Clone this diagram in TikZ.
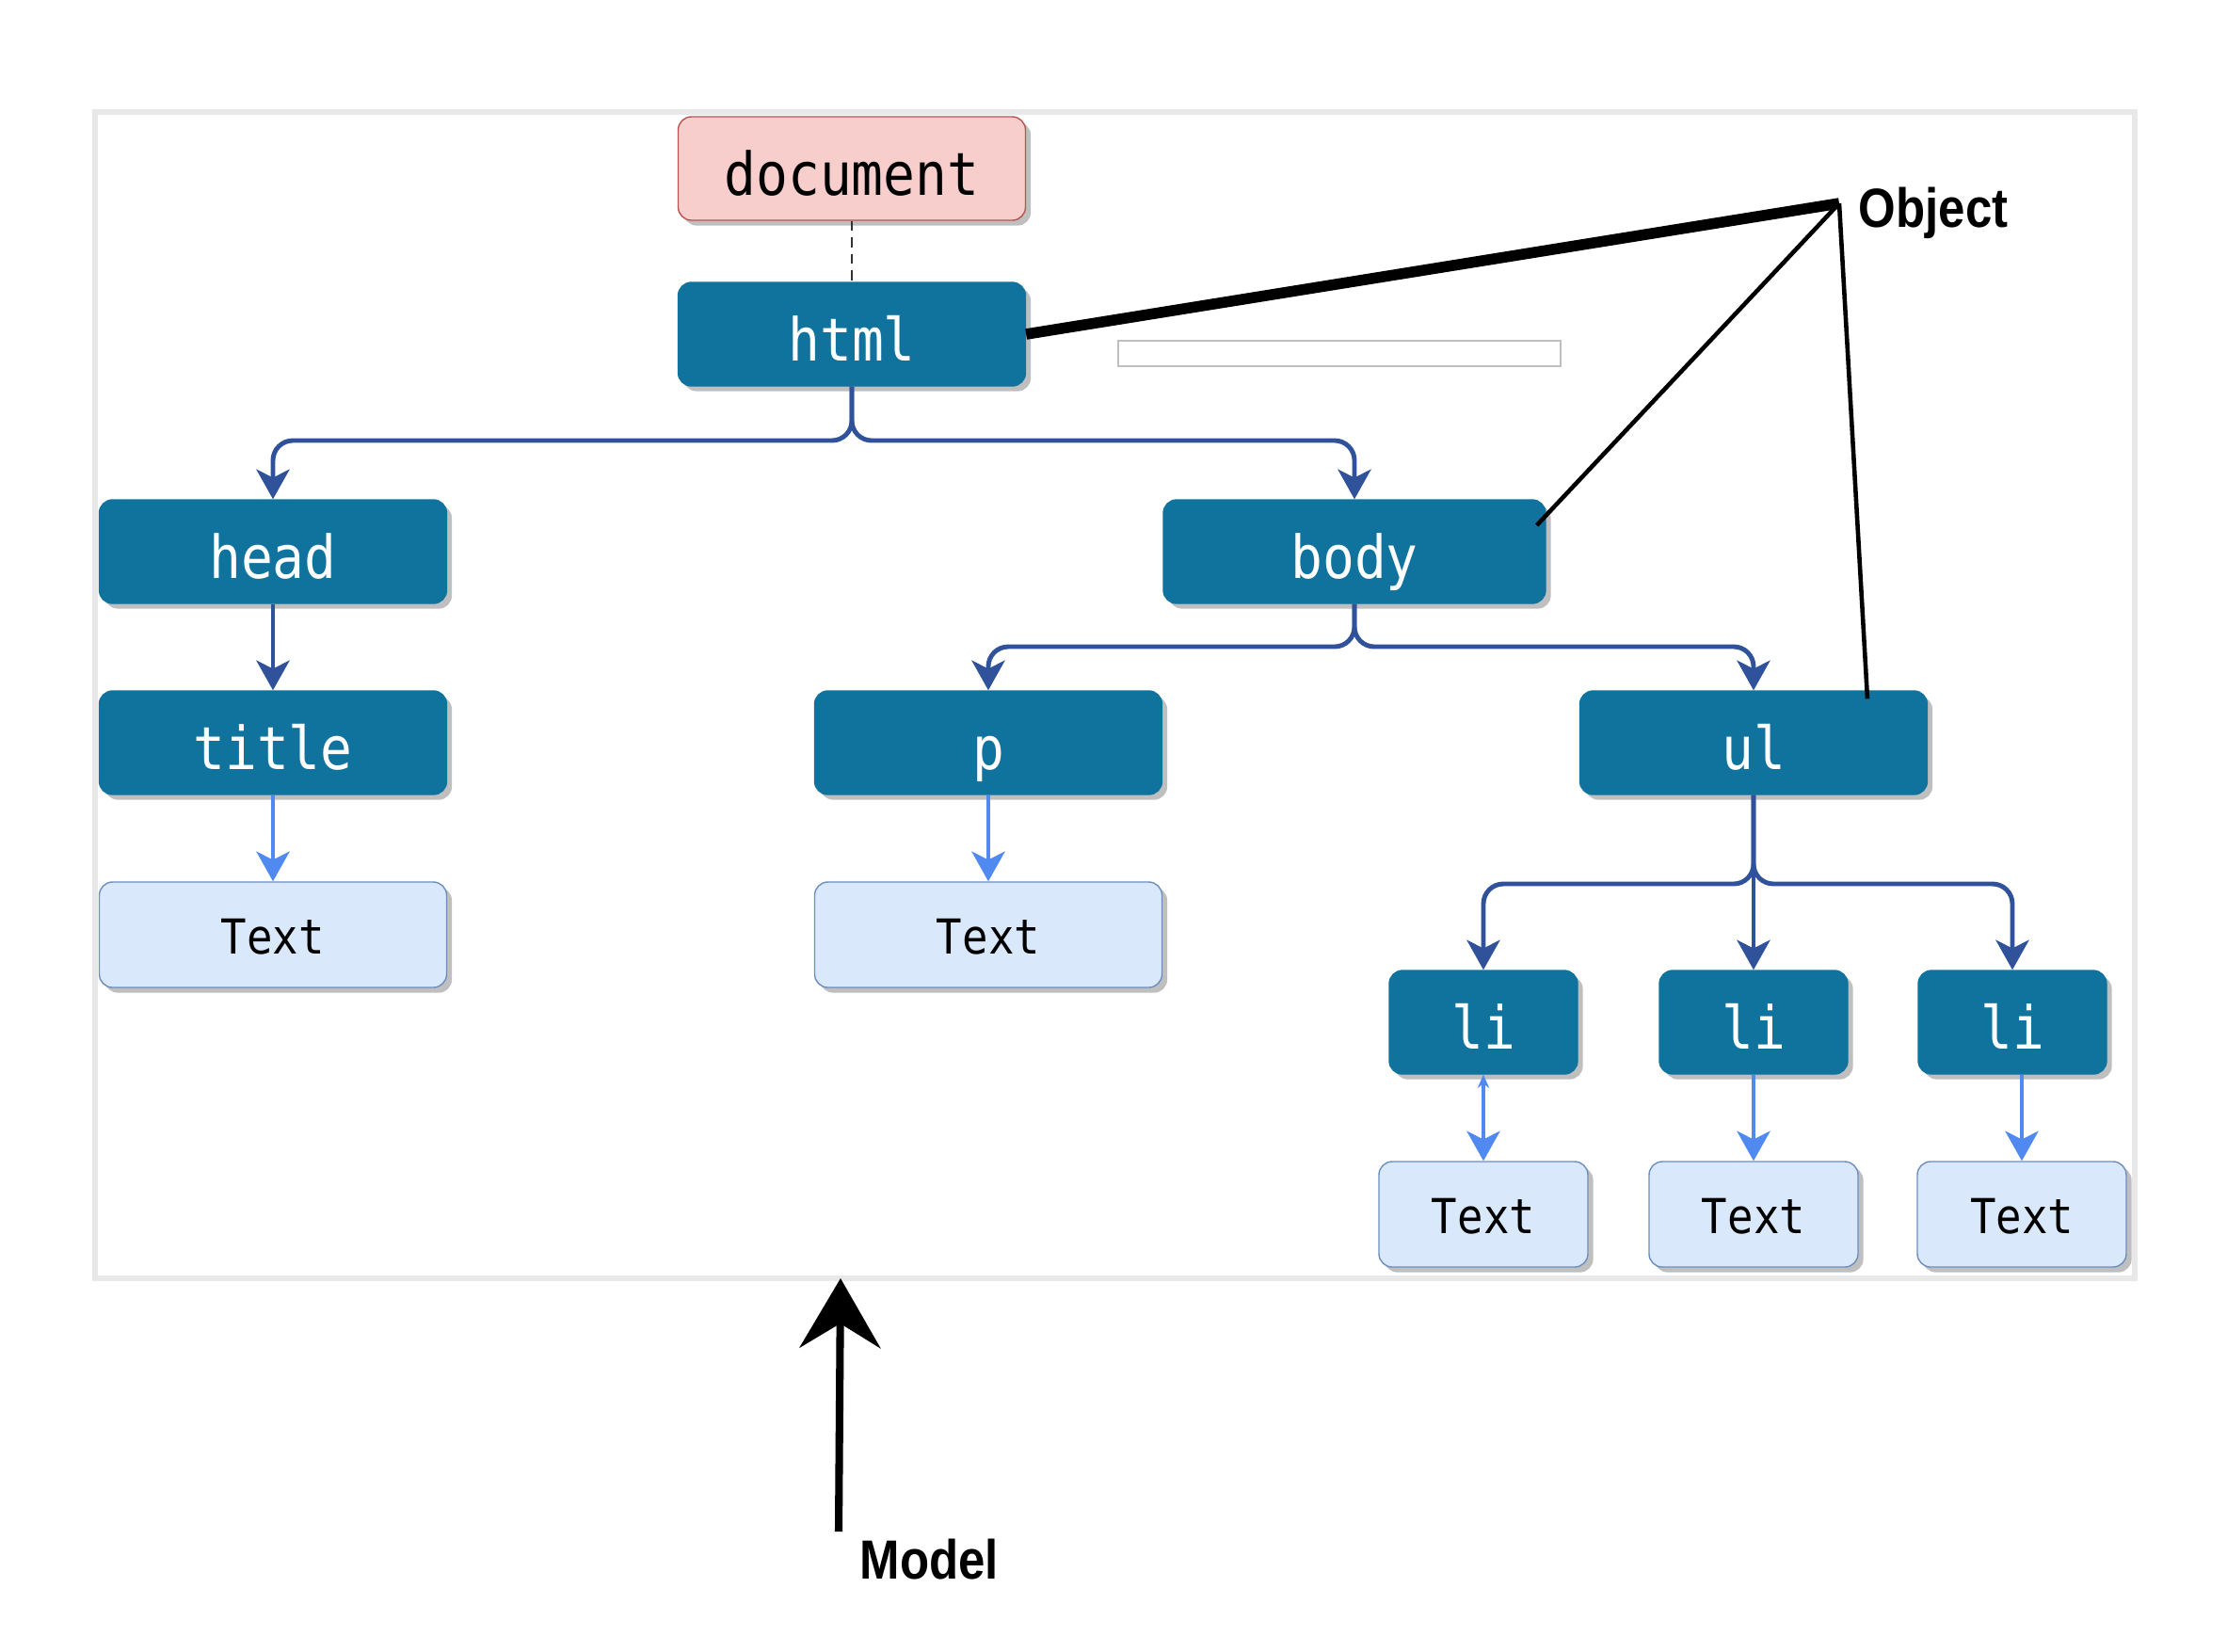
\documentclass[tikz,border=0pt]{standalone}
\usepackage{fontspec}
\setmonofont{DejaVu Sans Mono}
\setsansfont{Liberation Sans}
\usetikzlibrary{arrows.meta}
\usetikzlibrary{shadows}
\definecolor{tagblue}{RGB}{16,115,158}
\definecolor{treeblue}{RGB}{47,82,155}
\definecolor{leafblue}{RGB}{80,137,240}
\definecolor{leaffill}{RGB}{218,232,252}
\definecolor{leafdraw}{RGB}{108,142,191}
\definecolor{docfill}{RGB}{248,206,204}
\definecolor{docdraw}{RGB}{184,84,80}
\tikzset{
    boxshadow/.style = {drop shadow={shadow xshift=1.6pt,shadow yshift=-1.6pt,fill=black,opacity=0.25}},
    tagnode/.style = {rectangle, rounded corners=4pt, draw=tagblue, fill=tagblue, text=white, minimum width=3.69cm, minimum height=1.1cm, text height=0.56cm, text depth=0pt, font=\ttfamily\fontsize{16}{19}\selectfont, boxshadow},
    docnode/.style = {tagnode, draw=docdraw, fill=docfill, text=black},
    textnode/.style = {rectangle, rounded corners=4pt, draw=leafdraw, fill=leaffill, text=black, minimum width=3.69cm, minimum height=1.12cm, text height=0.40cm, text depth=0pt, font=\ttfamily\fontsize{13}{16}\selectfont, boxshadow},
    blank/.style = {rectangle, draw=black!25, fill=white, minimum width=4.70cm, minimum height=0.27cm, inner sep=0pt},
    lbl/.style = {font=\sffamily\bfseries\fontsize{14.5}{17}\selectfont, inner sep=0pt},
    frame/.style = {draw=black!9, line width=1.6pt},
    edget/.style = {-{Stealth[length=9pt,width=10pt,inset=2.5pt]}, line width=1.4pt, draw=treeblue, rounded corners=6pt}, % tree
    edgel/.style = {-{Stealth[length=9pt,width=10pt,inset=2.5pt]}, line width=1.4pt, draw=leafblue}, % leaf
    edged/.style = {densely dashed, line width=0.7pt, draw=black!80},
    pointer/.style = {line width=1.3pt, draw=black},
    pointerthick/.style = {line width=3.3pt, draw=black},
    modelarrow/.style = {-{Stealth[length=0.74cm,width=0.86cm,inset=0.26cm]}, line width=2.3pt, draw=black}
}
\newcommand{\T}[1]{\scalebox{1}[1.12]{#1}}

\begin{document}
\begin{tikzpicture}
\useasboundingbox (0,0) rectangle (23.66,-17.54);
\draw[frame] (1.01,-1.19) rectangle (22.68,-13.58);
%
\node[docnode] at (9.05, -1.79) (doc) {\T{document}};
\node[tagnode] at (9.05, -3.55) (html) {\T{html}};
\node[tagnode] at (2.90, -5.86) (head) {\T{head}};
\node[tagnode, minimum width=4.06cm] at (14.39, -5.86) (body) {\T{body}};
\node[tagnode] at (2.90, -7.89) (title) {\T{title}};
\node[tagnode] at (10.50, -7.89) (p) {\T{p}};
\node[tagnode] at (18.63, -7.89) (ul) {\T{ul}};
\node[textnode] at (2.90, -9.93) (ttitle) {\T{Text}};
\node[textnode] at (10.50, -9.93) (tp) {\T{Text}};
\node[tagnode, minimum width=2.0cm] at (15.76, -10.86) (lia) {\T{li}};
\node[tagnode, minimum width=2.0cm] at (18.63, -10.86) (lib) {\T{li}};
\node[tagnode, minimum width=2.0cm] at (21.38, -10.86) (lic) {\T{li}};
\node[textnode, minimum width=2.22cm] at (15.76, -12.90) (tlia) {\T{Text}};
\node[textnode, minimum width=2.22cm] at (18.63, -12.90) (tlib) {\T{Text}};
\node[textnode, minimum width=2.22cm] at (21.48, -12.90) (tlic) {\T{Text}};
\node[blank] at (14.23, -3.755) (field) {};
%
\coordinate (jhtml) at (9.05, -4.68);
\coordinate (jbody) at (14.39, -6.87);
\coordinate (jul) at (18.63, -9.39);
%
\draw[edged] (doc) -- (html);
\draw[edget] (html) -- (jhtml) -| (head);
\draw[edget] (html) -- (jhtml) -| (body);
\draw[edget] (head) -- (title);
\draw[edget] (body) -- (jbody) -| (p);
\draw[edget] (body) -- (jbody) -| (ul);
\draw[edget] (ul) -- (jul) -| (lia);
\draw[edget] (ul) -- (lib);
\draw[edget] (ul) -- (jul) -| (lic);
\draw[edgel] (title) -- (ttitle);
\draw[edgel] (p) -- (tp);
\draw[edgel, {Stealth[length=4pt,width=3.5pt]}-{Stealth[length=9pt,width=10pt,inset=2.5pt]}] (lia) -- (tlia);
\draw[edgel] (lib) -- (tlib);
\draw[edgel] (lic.south -| tlic.north) -- (tlic);
%
\node[lbl, anchor=west] at (19.74, -2.26) (objlbl) {\scalebox{1}[1.15]{Object}};
\coordinate (obj) at (19.54, -2.16);
\draw[pointerthick] (html.east) -- (obj);
\draw[pointer] ([xshift=-0.1cm,yshift=0.28cm]body.east) -- (obj);
\draw[pointer] ([xshift=1.21cm,yshift=-0.09cm]ul.north) -- (obj);
%
\node[lbl, anchor=west] at (9.13, -16.57) (mdl) {\scalebox{1}[1.15]{Model}};
\coordinate (mfoot) at (8.91, -16.27);
\coordinate (mtip) at (8.93, -13.58);
\draw[modelarrow] (mfoot) -- (mtip);

\end{tikzpicture}
\end{document}
